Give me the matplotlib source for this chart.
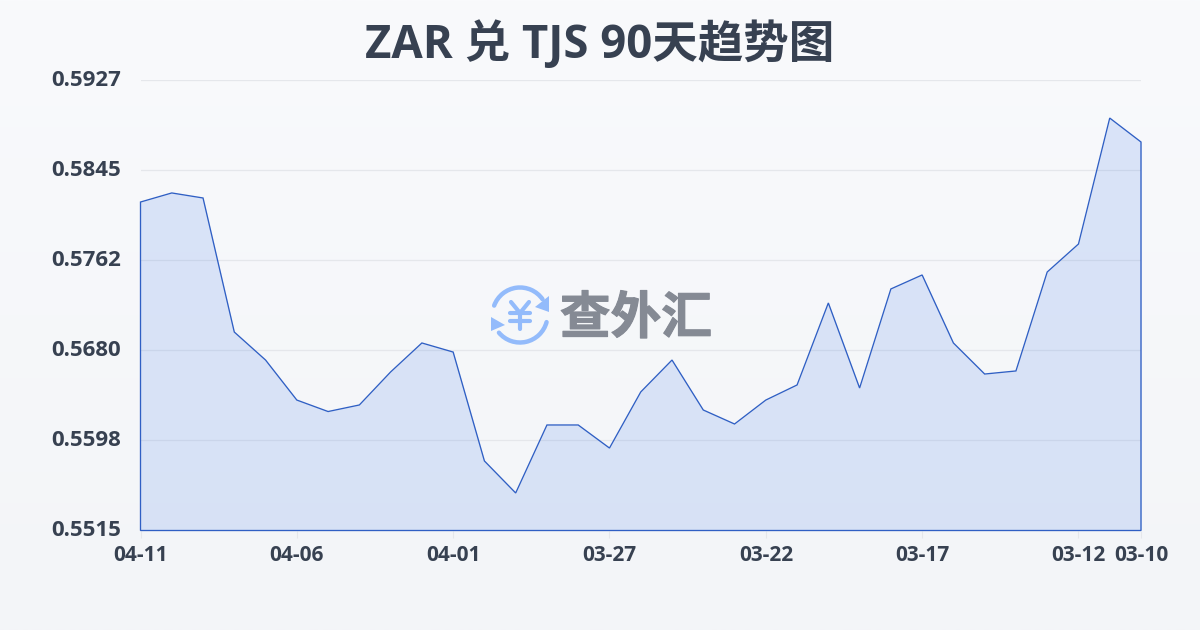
import numpy as np
import matplotlib
matplotlib.use('Agg')
import matplotlib.pyplot as plt
import matplotlib.patheffects as pe
from matplotlib.patches import Arc, Polygon
from matplotlib.transforms import ScaledTranslation

plt.rcParams['font.family'] = ['Open Sans', 'Noto Sans CJK SC', 'DejaVu Sans']

title = 'ZAR 兑 TJS 90天趋势图'
rates = [0.58154, 0.58237, 0.58191, 0.56965, 0.56709, 0.56343, 0.56238, 0.56298,
         0.56600, 0.56865, 0.56782, 0.55786, 0.55493, 0.56115, 0.56115, 0.55904,
         0.56417, 0.56709, 0.56252, 0.56124, 0.56343, 0.56481, 0.57231, 0.56453,
         0.57359, 0.57487, 0.56865, 0.56581, 0.56609, 0.57514, 0.57770, 0.58922, 0.58703]
x_tick_pos = [0, 5, 10, 15, 20, 25, 30, 32]
x_tick_labels = ['04-11', '04-06', '04-01', '03-27', '03-22', '03-17', '03-12', '03-10']
y_ticks = [0.5515, 0.5598, 0.5680, 0.5762, 0.5845, 0.5927]
y_tick_labels = ['0.5515', '0.5598', '0.5680', '0.5762', '0.5845', '0.5927']
y_min, y_max = 0.5515, 0.5927

W, H = 1200, 630
fig = plt.figure(figsize=(W/100, H/100), dpi=100)

# background gradient
bg = fig.add_axes([0, 0, 1, 1], zorder=0)
bg.axis('off')
grad = np.linspace(0, 1, 256)[:, None, None]
top = np.array([0xf9, 0xfa, 0xfc]) / 255
bot = np.array([0xf3, 0xf5, 0xf8]) / 255
bg.imshow(top + (bot - top) * grad, aspect='auto', extent=[0, 1, 0, 1])

ax = fig.add_axes([140.5/W, 1 - 530.5/H, (1141 - 140.5)/W, 450.5/H], zorder=1)
ax.patch.set_alpha(0)
x = np.arange(len(rates))
ax.set_xlim(0, len(rates) - 1)
ax.set_ylim(y_min, y_max)

for s in ax.spines.values():
    s.set_visible(False)
ax.set_yticks(y_ticks, y_tick_labels, fontsize=16, fontweight='bold', color='#374151')
ax.set_xticks(x_tick_pos, x_tick_labels, fontsize=15, fontweight='bold', color='#374151')
ax.tick_params(axis='y', length=0, pad=14)
ax.tick_params(axis='x', length=5, width=0.8, color='#e5e7eb', pad=5.5)
for lab in ax.get_yticklabels():
    lab.set_transform(lab.get_transform() + ScaledTranslation(0, 2/100, fig.dpi_scale_trans))
ax.grid(axis='y', color='#e5e7eb', linewidth=0.9)
ax.set_axisbelow(True)

ax.fill_between(x, rates, y_min, color='#3370e8', alpha=0.15, linewidth=0, zorder=2)
ax.add_patch(Polygon(np.column_stack([np.r_[x, x[-1], 0], np.r_[rates, y_min, y_min]]),
                     closed=True, fill=False, edgecolor='#2f5fc4', linewidth=0.95,
                     zorder=3, clip_on=False))

fig.text(0.5, 1 - 45/H, title, ha='center', va='center', fontsize=32.8,
         fontweight='bold', color='#374151')

# watermark
ov = fig.add_axes([0, 0, 1, 1], zorder=4)
ov.axis('off')
blue = '#93bbfb'
cx, cy = 520, 315
ov.add_patch(Arc((cx, cy), 55, 55, theta1=200, theta2=325, color=blue, lw=3.2, capstyle='round'))
ov.add_patch(Arc((cx, cy), 55, 55, theta1=15, theta2=140, color=blue, lw=3.2, capstyle='round'))
ov.add_patch(Polygon([(549, 296), (549, 312), (535, 307)], closed=True, color=blue, lw=0))
ov.add_patch(Polygon([(491, 317), (491, 331), (505, 325)], closed=True, color=blue, lw=0))
for (px, py) in [((511, 520), (302, 313)), ((529, 520), (302, 313)), ((510, 530), (313, 313)),
                 ((510, 530), (321, 321)), ((520, 520), (313, 329))]:
    ov.plot(px, py, color=blue, lw=3, solid_capstyle='round')
ov.set_xlim(0, W)
ov.set_ylim(H, 0)
ov.text(636, 319, '查外汇', ha='center', va='center', fontsize=36.5, fontweight='bold',
        color='#858a94', family=['Noto Sans CJK SC', 'DejaVu Sans'],
        path_effects=[pe.withStroke(linewidth=0.8, foreground='#858a94')])

fig.savefig('out.png', dpi=100)
